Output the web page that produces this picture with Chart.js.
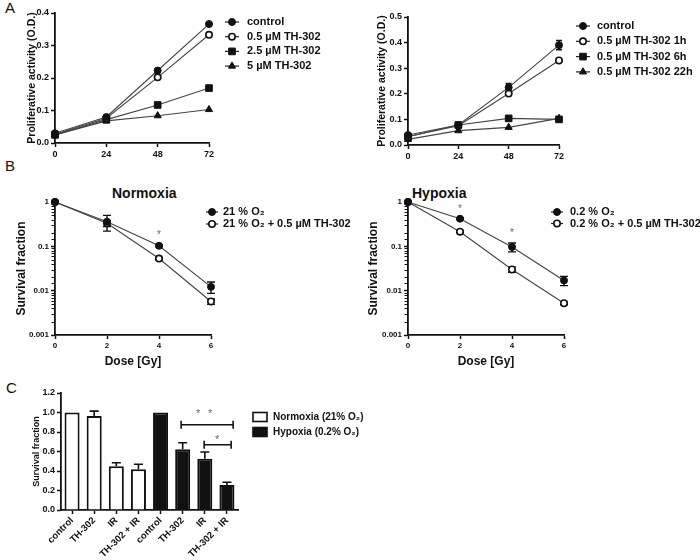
<!DOCTYPE html>
<html><head><meta charset="utf-8">
<script src="https://cdn.jsdelivr.net/npm/chart.js@4.4.1/dist/chart.umd.min.js"></script>
<style>
body{margin:0;background:#fff;width:700px;height:560px;position:relative;overflow:hidden;font-family:'Liberation Sans',Arial,sans-serif;}
canvas{position:absolute;}
.lbl{position:absolute;color:#111;white-space:nowrap;line-height:1;}
</style></head><body>
<div class="lbl" style="left:5px;top:0px;font-size:15px;">A</div>
<div class="lbl" style="left:5px;top:158px;font-size:15px;">B</div>
<div class="lbl" style="left:6px;top:380px;font-size:15px;">C</div>
<div class="lbl" style="left:112px;top:186px;font-size:14px;font-weight:bold;">Normoxia</div>
<div class="lbl" style="left:412px;top:186px;font-size:14px;font-weight:bold;">Hypoxia</div>
<canvas id="a1" width="350" height="165" style="left:0;top:0"></canvas>
<canvas id="a2" width="350" height="165" style="left:350px;top:0"></canvas>
<canvas id="b1" width="350" height="205" style="left:0;top:165px"></canvas>
<canvas id="b2" width="350" height="205" style="left:350px;top:165px"></canvas>
<canvas id="c1" width="380" height="190" style="left:0;top:370px"></canvas>
<script>
// ---------- DATA ----------
const hoursA = [0, 24, 48, 72];
const a1Control = [0.030, 0.080, 0.223, 0.366];
const a1ControlErr = [0.002, 0.003, 0.005, 0.004];
const a1TH05 = [0.027, 0.076, 0.202, 0.333];
const a1TH05Err = [0.002, 0.003, 0.005, 0.005];
const a1TH25 = [0.025, 0.072, 0.117, 0.169];
const a1TH5 = [0.025, 0.068, 0.084, 0.103];
const a1Labels = ['control', '0.5 µM TH-302', '2.5 µM TH-302', '5 µM TH-302'];

const a2Control = [0.039, 0.078, 0.225, 0.390];
const a2ControlErr = [0.003, 0.004, 0.015, 0.018];
const a2TH1h = [0.033, 0.075, 0.201, 0.330];
const a2TH1hErr = [0.002, 0.003, 0.008, 0.006];
const a2TH6h = [0.032, 0.078, 0.104, 0.100];
const a2TH22h = [0.022, 0.056, 0.069, 0.104];
const a2Labels = ['control', '0.5 µM TH-302 1h', '0.5 µM TH-302 6h', '0.5 µM TH-302 22h'];

const doseB = [0, 2, 4, 6];
const bNormo = [1, 0.36, 0.103, 0.0122];
const bNormoErr = [0, 0.14, 0.006, 0.0035];
const bNormoTH = [1, 0.33, 0.053, 0.0057];
const bNormoTHErr = [0, 0.05, 0.003, 0.0008];
const bNormoLabels = ['21 % O₂', '21 % O₂ + 0.5 µM TH-302'];
const bNormoStars = [{x: 4, y: 0.21}];
const bHypo = [1, 0.42, 0.097, 0.017];
const bHypoErr = [0, 0.02, 0.022, 0.004];
const bHypoTH = [1, 0.214, 0.030, 0.0052];
const bHypoTHErr = [0, 0.01, 0.004, 0.0004];
const bHypoLabels = ['0.2 % O₂', '0.2 % O₂ + 0.5 µM TH-302'];
const bHypoStars = [{x: 2, y: 0.78}, {x: 4, y: 0.23}];

const cCategories = ['control', 'TH-302', 'IR', 'TH-302 + IR', 'control', 'TH-302', 'IR', 'TH-302 + IR'];
const cValues = [1.0, 0.964, 0.448, 0.417, 1.0, 0.622, 0.526, 0.256];
const cErrors = [0, 0.05, 0.037, 0.052, 0, 0.068, 0.069, 0.028];
const cGroup = [0, 0, 0, 0, 1, 1, 1, 1];
const cLegendLabels = ['Normoxia (21% O₂)', 'Hypoxia (0.2% O₂)'];
const cBrackets = [{x1: 4.93, x2: 7.28, y: 0.875}, {x1: 5.97, x2: 7.19, y: 0.67}];
const cStars = [{x: 5.7, y: 1.02}, {x: 6.24, y: 1.02}, {x: 6.56, y: 0.75}];

// ---------- SETUP ----------
const FONT = "'Liberation Sans', Arial, Helvetica, sans-serif";
Chart.defaults.font.family = FONT;
Chart.defaults.font.weight = 'bold';
Chart.defaults.color = '#111';
Chart.defaults.animation = false;
Chart.defaults.events = [];
Chart.defaults.plugins.legend.display = false;
Chart.defaults.plugins.tooltip.enabled = false;

function isPow10(v){ if (!(v > 0)) return false; const l = Math.log10(v); return Math.abs(l - Math.round(l)) < 1e-6; }
function pts(xs, ys){ return xs.map((x, i) => ({x: x, y: ys[i]})); }

const STYLES = {
  filledCircle: {pointStyle:'circle', pointRadius:3.5, pointBackgroundColor:'#111', pointBorderColor:'#111', pointBorderWidth:1},
  openCircle: {pointStyle:'circle', pointRadius:3.2, pointBackgroundColor:'#fff', pointBorderColor:'#111', pointBorderWidth:1.6},
  square: {pointStyle:'rect', pointRadius:4.7, pointBackgroundColor:'#111', pointBorderColor:'#111', pointBorderWidth:1},
  triangle: {pointStyle:'triangle', pointRadius:4.1, pointBackgroundColor:'#111', pointBorderColor:'#111', pointBorderWidth:1}
};
function lineDs(xs, ys, errs, style, cap){
  return Object.assign({data: pts(xs, ys), errors: errs, capWidth: cap || 3, borderColor:'#444', borderWidth:1.1,
    fill:false, tension:0, clip:false, pointHoverRadius:0}, STYLES[style]);
}

function drawMarker(ctx, ds, x, y){
  ctx.save();
  ctx.fillStyle = ds.pointBackgroundColor; ctx.strokeStyle = ds.pointBorderColor; ctx.lineWidth = ds.pointBorderWidth;
  Chart.helpers.drawPoint(ctx, {pointStyle: ds.pointStyle, radius: ds.pointRadius, borderWidth: ds.pointBorderWidth, rotation: 0}, x, y);
  ctx.restore();
}

function makeDecor(d){
  return {
    id: 'decor',
    beforeDatasetsDraw(chart){
      const ctx = chart.ctx, xs = chart.scales.x, ys = chart.scales.y;
      chart.data.datasets.forEach(ds => {
        if (!ds.errors) return;
        ctx.save(); ctx.strokeStyle = '#111'; ctx.lineWidth = ds.errWidth || 1.4;
        ds.data.forEach((p, i) => {
          const e = ds.errors[i]; if (!e) return;
          const xv = (typeof p === 'object') ? p.x : i;
          const yv = (typeof p === 'object') ? p.y : p;
          const px = xs.getPixelForValue(xv);
          const top = ys.getPixelForValue(yv + e);
          const bot = ds.errUpOnly ? ys.getPixelForValue(yv) : ys.getPixelForValue(yv - e);
          const cw = ds.capWidth || 3;
          ctx.beginPath();
          ctx.moveTo(px, top); ctx.lineTo(px, bot);
          ctx.moveTo(px - cw, top); ctx.lineTo(px + cw, top);
          if (!ds.errUpOnly) { ctx.moveTo(px - cw, bot); ctx.lineTo(px + cw, bot); }
          ctx.stroke();
        });
        ctx.restore();
      });
    },
    afterDraw(chart){
      const ctx = chart.ctx, xs = chart.scales.x, ys = chart.scales.y;
      if (d.minorLog) {
        ctx.save(); ctx.strokeStyle = '#111'; ctx.lineWidth = 1;
        const ax = chart.chartArea.left;
        ys.ticks.forEach(t => {
          if (isPow10(t.value)) return;
          const py = Math.round(ys.getPixelForValue(t.value)) + 0.5;
          ctx.beginPath(); ctx.moveTo(ax - 1, py); ctx.lineTo(ax - 3.5, py); ctx.stroke();
        });
        ctx.restore();
      }
      if (d.legend) {
        const L = d.legend;
        ctx.save();
        ctx.font = 'bold ' + L.size + 'px ' + FONT;
        ctx.textBaseline = 'middle'; ctx.textAlign = 'left';
        L.labels.forEach((lab, k) => {
          const y = L.y + k * L.dy;
          if (L.boxes) {
            ctx.fillStyle = L.boxes[k]; ctx.strokeStyle = '#111'; ctx.lineWidth = 1.6;
            ctx.fillRect(L.x, y - L.bh / 2, L.bw, L.bh);
            ctx.strokeRect(L.x, y - L.bh / 2, L.bw, L.bh);
          } else {
            const ds = chart.data.datasets[k];
            ctx.strokeStyle = '#222'; ctx.lineWidth = 1.2;
            ctx.beginPath(); ctx.moveTo(L.x - L.half, y); ctx.lineTo(L.x + L.half, y); ctx.stroke();
            drawMarker(ctx, ds, L.x, y);
          }
          ctx.fillStyle = '#111';
          ctx.fillText(lab, L.tx, y);
        });
        ctx.restore();
      }
      if (d.brackets) {
        ctx.save(); ctx.strokeStyle = '#111'; ctx.lineWidth = 1.6;
        d.brackets.forEach(b => {
          const x1 = xs.getPixelForValue(b.x1), x2 = xs.getPixelForValue(b.x2), y = ys.getPixelForValue(b.y);
          ctx.beginPath();
          ctx.moveTo(x1, y); ctx.lineTo(x2, y);
          ctx.moveTo(x1, y - 4); ctx.lineTo(x1, y + 4);
          ctx.moveTo(x2, y - 4); ctx.lineTo(x2, y + 4);
          ctx.stroke();
        });
        ctx.restore();
      }
      if (d.stars) {
        ctx.save();
        const sz = d.starSize || 10;
        ctx.font = sz + 'px ' + FONT; ctx.fillStyle = '#666';
        ctx.textAlign = 'center'; ctx.textBaseline = 'alphabetic';
        d.stars.forEach(s => {
          ctx.fillText('*', xs.getPixelForValue(s.x), ys.getPixelForValue(s.y) + sz * 0.57);
        });
        ctx.restore();
      }
    }
  };
}

function gridOpts(){ return {display:true, drawOnChartArea:false, drawTicks:true, tickLength:4, tickWidth:1.5, tickColor:'#111'}; }
function borderOpts(){ return {display:true, color:'#111', width:1.8}; }

// ---------- PANEL A ----------
function panelA(id, datasets, yMax, labels, legendPos, yWidth, xHeight, padding){
  new Chart(document.getElementById(id), {
    type: 'line',
    data: {datasets: datasets},
    options: {
      responsive: false,
      layout: {padding: padding},
      scales: {
        x: {type:'linear', min:0, max:72,
          ticks:{stepSize:24, font:{size:9, weight:'bold'}, padding:2, color:'#111'},
          grid: gridOpts(), border: borderOpts(),
          afterFit: s => { s.height = xHeight; }},
        y: {type:'linear', min:0, max:yMax,
          ticks:{stepSize:0.1, font:{size:9, weight:'bold'}, padding:2, color:'#111', callback: v => Number(v).toFixed(1)},
          grid: gridOpts(), border: borderOpts(),
          title:{display:true, text:'Proliferative activity (O.D.)', color:'#111', font:{size:10.5, weight:'bold'}, padding:{top:25.5, bottom:0}},
          afterFit: s => { s.width = yWidth; }}
      }
    },
    plugins: [makeDecor({legend: Object.assign({labels: labels, size: 11, half: 7}, legendPos)})]
  });
}

panelA('a1', [
  lineDs(hoursA, a1Control, a1ControlErr, 'filledCircle'),
  lineDs(hoursA, a1TH05, a1TH05Err, 'openCircle'),
  lineDs(hoursA, a1TH25, null, 'square'),
  lineDs(hoursA, a1TH5, null, 'triangle')
], 0.4, a1Labels, {x:232, tx:247, y:22, dy:14.7}, 55, 22, {left:0, top:13, right:141, bottom:0});

panelA('a2', [
  lineDs(hoursA, a2Control, a2ControlErr, 'filledCircle'),
  lineDs(hoursA, a2TH1h, a2TH1hErr, 'openCircle'),
  lineDs(hoursA, a2TH6h, null, 'square'),
  lineDs(hoursA, a2TH22h, null, 'triangle')
], 0.5, a2Labels, {x:233, tx:247, y:26, dy:15.3}, 58, 20, {left:0, top:17, right:141, bottom:0});

// ---------- PANEL B ----------
function panelB(id, datasets, labels, stars, legendPos, yWidth, titlePad, padding){
  new Chart(document.getElementById(id), {
    type: 'line',
    data: {datasets: datasets},
    options: {
      responsive: false,
      layout: {padding: padding},
      scales: {
        x: {type:'linear', min:0, max:6,
          ticks:{stepSize:2, font:{size:8, weight:'bold'}, padding:2, color:'#111'},
          grid: gridOpts(), border: borderOpts(),
          title:{display:true, text:'Dose [Gy]', color:'#111', font:{size:12, weight:'bold'}, padding:{top:0, bottom:1}},
          afterFit: s => { s.height = 35; }},
        y: {type:'logarithmic', min:0.001, max:1,
          ticks:{autoSkip:false, font:{size:8, weight:'bold'}, padding:2, color:'#111',
            callback: v => isPow10(v) ? String(Number(v.toPrecision(3))) : ''},
          grid: {display:true, drawOnChartArea:false, drawTicks:true, tickLength:4, tickWidth:1.5,
            tickColor: c => (c.tick && isPow10(c.tick.value)) ? '#111' : 'rgba(0,0,0,0)'},
          border: borderOpts(),
          title:{display:true, text:'Survival fraction', color:'#111', font:{size:12, weight:'bold'}, padding:{top:titlePad, bottom:0}},
          afterFit: s => { s.width = yWidth; }}
      }
    },
    plugins: [makeDecor({minorLog:true, stars: stars, starSize: 10,
      legend: Object.assign({labels: labels, size: 11, half: 6}, legendPos)})]
  });
}

panelB('b1', [
  lineDs(doseB, bNormo, bNormoErr, 'filledCircle', 4),
  lineDs(doseB, bNormoTH, bNormoTHErr, 'openCircle', 4)
], bNormoLabels, bNormoStars, {x:212, tx:223, y:47, dy:12}, 55, 14, {left:0, top:37, right:139, bottom:0});

panelB('b2', [
  lineDs(doseB, bHypo, bHypoErr, 'filledCircle', 4),
  lineDs(doseB, bHypoTH, bHypoTHErr, 'openCircle', 4)
], bHypoLabels, bHypoStars, {x:207, tx:220, y:47, dy:11.5}, 58, 16, {left:0, top:37, right:136, bottom:0});

// ---------- PANEL C ----------
const groupFill = ['#ffffff', '#111111'];
new Chart(document.getElementById('c1'), {
  type: 'bar',
  data: {labels: cCategories, datasets: [{
    data: cValues, errors: cErrors, errUpOnly: true, capWidth: 4.5, errWidth: 1.6,
    backgroundColor: cGroup.map(g => groupFill[g]), borderColor: '#111', borderWidth: 2,
    barPercentage: 0.68, categoryPercentage: 1
  }]},
  options: {
    responsive: false,
    layout: {padding: {left:0, top:23, right:142, bottom:0}},
    scales: {
      x: {type:'category', offset:true,
        ticks:{autoSkip:false, minRotation:45, maxRotation:45, font:{size:9.5, weight:'bold'}, padding:1, color:'#111'},
        grid: Object.assign(gridOpts(), {offset:false}), border: borderOpts(),
        afterFit: s => { s.height = 50; }},
      y: {type:'linear', min:0, max:1.2,
        ticks:{stepSize:0.2, font:{size:9, weight:'bold'}, padding:2, color:'#111', callback: v => Number(v).toFixed(1)},
        grid: gridOpts(), border: borderOpts(),
        title:{display:true, text:'Survival fraction', color:'#111', font:{size:9, weight:'bold'}, padding:{top:31.5, bottom:0}},
        afterFit: s => { s.width = 61; }}
    }
  },
  plugins: [makeDecor({brackets: cBrackets, stars: cStars, starSize: 11,
    legend: {labels: cLegendLabels, boxes: groupFill, x:253, bw:14, bh:9, tx:273, y:47, dy:15, size:10}})]
});
</script>
</body></html>
